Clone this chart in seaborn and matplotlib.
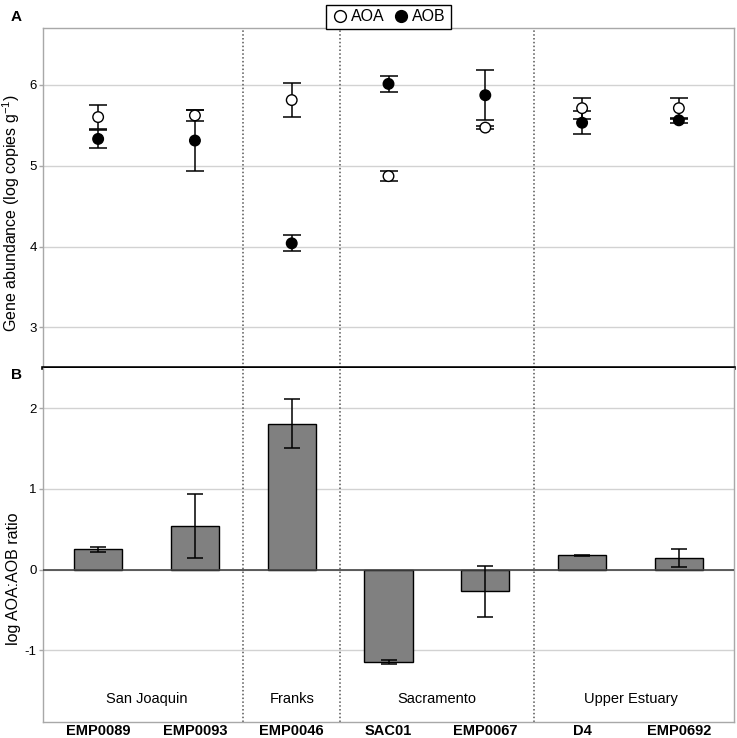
import numpy as np
import pandas as pd
import matplotlib
matplotlib.use("Agg")
import matplotlib.pyplot as plt
from matplotlib.lines import Line2D
import seaborn as sns

sites = ['EMP0089', 'EMP0093', 'EMP0046', 'SAC01', 'EMP0067', 'D4', 'EMP0692']
regions = ['San Joaquin', 'San Joaquin', 'Franks', 'Sacramento', 'Sacramento',
           'Upper Estuary', 'Upper Estuary']

aoa_mean = [5.60, 5.62, 5.81, 4.87, 5.47, 5.71, 5.71]
aoa_err = [0.15, 0.07, 0.21, 0.06, 0.02, 0.13, 0.13]
aob_mean = [5.33, 5.31, 4.04, 6.01, 5.87, 5.53, 5.56]
aob_err = [0.11, 0.38, 0.10, 0.10, 0.31, 0.14, 0.03]

ratio = [0.25, 0.54, 1.81, -1.14, -0.27, 0.18, 0.145]
ratio_err = [0.03, 0.40, 0.30, 0.025, 0.32, 0.005, 0.115]

sns.set_theme(style='white')
plt.rcParams['font.family'] = ['Liberation Sans', 'DejaVu Sans']
plt.rcParams['mathtext.fontset'] = 'custom'
plt.rcParams['mathtext.rm'] = 'Liberation Sans'
plt.rcParams['mathtext.it'] = 'Liberation Sans'
plt.rcParams['axes.unicode_minus'] = False
plt.rcParams['text.color'] = 'black'
plt.rcParams['axes.labelcolor'] = 'black'
plt.rcParams['xtick.color'] = 'black'
plt.rcParams['ytick.color'] = 'black'

df = pd.DataFrame({
    'site': sites * 2,
    'gene': ['AOA'] * len(sites) + ['AOB'] * len(sites),
    'value': aoa_mean + aob_mean,
})
df_ratio = pd.DataFrame({'site': sites, 'ratio': ratio})

fig = plt.figure(figsize=(7.37, 7.38), dpi=100)
ax1 = fig.add_axes([0.0583, 0.5014, 0.9377, 0.4606])
ax2 = fig.add_axes([0.0583, 0.0215, 0.9377, 0.4799])

pos = np.arange(len(sites))
grid_c = '#d2d2d2'
spine_c = '#a8a8a8'

# panel A
ax1.errorbar(pos, aoa_mean, yerr=aoa_err, fmt='none', ecolor='black',
             elinewidth=1.1, capsize=6.5, capthick=1.1, zorder=2)
ax1.errorbar(pos, aob_mean, yerr=aob_err, fmt='none', ecolor='black',
             elinewidth=1.1, capsize=6.5, capthick=1.1, zorder=2)
sns.stripplot(data=df, x='site', y='value', hue='gene', order=sites,
              palette={'AOA': 'white', 'AOB': 'black'}, jitter=False, dodge=False,
              size=7.6, linewidth=1, edgecolor='black', legend=False, ax=ax1, zorder=3)
ax1.set_ylim(2.5, 6.7)
ax1.set_yticks([3, 4, 5, 6])
ax1.set_ylabel(r'Gene abundance (log copies g$^{-1}$)', fontsize=11.5)
ax1.yaxis.set_label_coords(-0.030, 0.456)
ax1.set_xlabel('')
ax1.set_xticks(pos)
ax1.set_xticklabels([])

# panel B
sns.barplot(data=df_ratio, x='site', y='ratio', order=sites, color='#808080',
            saturation=1, width=0.5, edgecolor='black', linewidth=1, ax=ax2, zorder=2)
ax2.errorbar(pos, ratio, yerr=ratio_err, fmt='none', ecolor='black',
             elinewidth=1.1, capsize=5.5, capthick=1.1, zorder=4)
ax2.axhline(0, color='#444444', lw=1.2, zorder=3)
ax2.set_ylim(-1.89, 2.5)
ax2.set_yticks([-1, 0, 1, 2])
ax2.set_ylabel('log AOA:AOB ratio', fontsize=11.5)
ax2.yaxis.set_label_coords(-0.032, 0.405)
ax2.set_xlabel('')
ax2.set_xticks(pos)
ax2.set_xticklabels(sites, fontsize=10.5, fontweight='bold')

# region labels and dividers
reg_names = []
for r in regions:
    if r not in reg_names:
        reg_names.append(r)
for r in reg_names:
    idx = [i for i, x in enumerate(regions) if x == r]
    ax2.text(np.mean(idx), -1.6, r, ha='center', va='center', fontsize=10.5)
for i in range(len(regions) - 1):
    if regions[i] != regions[i + 1]:
        for ax in (ax1, ax2):
            ax.axvline(i + 0.5, color='#555555', lw=1.1, ls=(0, (1, 1.5)), zorder=1)

for ax in (ax1, ax2):
    ax.set_xlim(-0.57, 6.57)
    ax.yaxis.grid(True, color=grid_c, lw=1)
    ax.xaxis.grid(False)
    ax.set_axisbelow(True)
    for s in ax.spines.values():
        s.set_color(spine_c)
        s.set_linewidth(1)
    ax.tick_params(axis='y', left=True, length=3, width=1, color=spine_c,
                   labelsize=9.5, labelcolor='black', pad=1.5)
    ax.tick_params(axis='x', bottom=False, length=0, pad=1)

ax1.spines['bottom'].set_color('black')
ax1.spines['bottom'].set_linewidth(2.6)
ax1.spines['bottom'].set_zorder(5)
ax2.spines['top'].set_visible(False)

handles = [Line2D([], [], marker='o', ls='none', mfc='white', mec='black', ms=8.5),
           Line2D([], [], marker='o', ls='none', mfc='black', mec='black', ms=8.5)]
fig.legend(handles, ['AOA', 'AOB'], loc='lower center', bbox_to_anchor=(0.527, 0.9605),
           ncol=2, frameon=True, fancybox=False, edgecolor='black', fontsize=11.5,
           handletextpad=0.15, columnspacing=0.5, borderpad=0.3, handlelength=1.1,
           borderaxespad=0, framealpha=1)

fig.text(0.015, 0.977, 'A', fontsize=11, fontweight='bold', va='center')
fig.text(0.015, 0.492, 'B', fontsize=11, fontweight='bold', va='center')

fig.savefig('out.png', dpi=100)
